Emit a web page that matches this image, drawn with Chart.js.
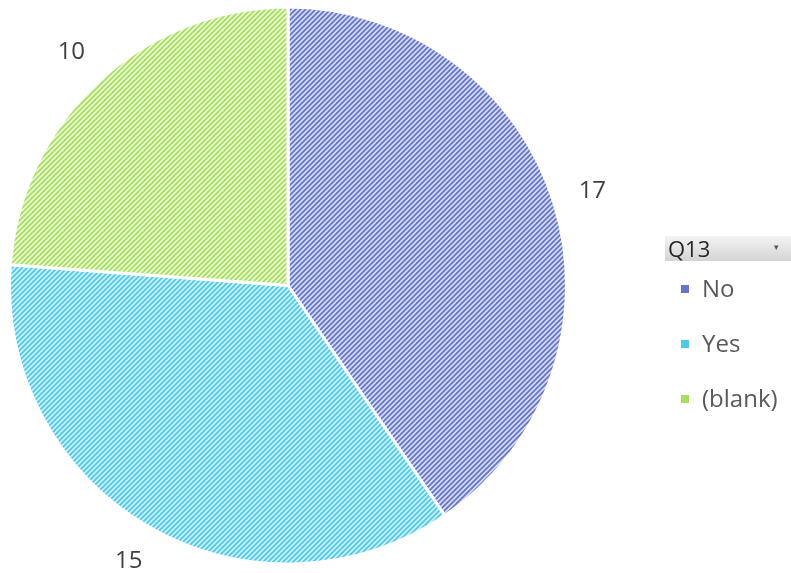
<!DOCTYPE html>
<html>
<head>
<meta charset="utf-8">
<script src="https://cdn.jsdelivr.net/npm/chart.js@4/dist/chart.umd.min.js"></script>
<style>
  html, body { margin: 0; padding: 0; background: #fff; }
  #wrap { position: relative; width: 791px; height: 573px; }
  #legend { position: absolute; left: 665px; top: 236px; width: 126px; font-family: "Open Sans", Lato, sans-serif; color: #595959; }
  #legend .head { height: 25px; line-height: 25px; padding-left: 3px; font-size: 22px; color: #262626;
    background: linear-gradient(#f4f4f4, #d4d4d4); position: relative; }
  #legend .head span { position: absolute; right: 12px; top: -2px; font-size: 9px; color: #555; }
  #legend .item { position: absolute; left: 16px; font-size: 24px; line-height: 30px; white-space: nowrap; }
  #legend .item i { display: inline-block; width: 8px; height: 8px; margin-right: 13px; vertical-align: 4px; }
</style>
</head>
<body>
<div id="wrap">
  <canvas id="myPie" width="791" height="573"></canvas>
  <div id="legend"></div>
</div>
<script>
const labels = ["No", "Yes", "(blank)"];
const counts = [17, 15, 10];
const darkColors = ["#6474cc", "#50c8e8", "#a8de60"];
const lightColors = ["#d4daf6", "#c8f0fa", "#e8f9d0"];

// diagonal stripe fill, like a spreadsheet "wide upward diagonal" pattern
function stripes(dark, light) {
    const s = 5;
    const c = document.createElement("canvas");
    c.width = s; c.height = s;
    const g = c.getContext("2d");
    g.fillStyle = light;
    g.fillRect(0, 0, s, s);
    g.strokeStyle = dark;
    g.lineWidth = 1.7;
    g.beginPath();
    g.moveTo(-1, s + 1); g.lineTo(s + 1, -1);
    g.moveTo(-1, 1); g.lineTo(1, -1);
    g.moveTo(s - 1, s + 1); g.lineTo(s + 1, s - 1);
    g.stroke();
    return g.createPattern(c, "repeat");
}

const fills = darkColors.map((d, i) => stripes(d, lightColors[i]));

// values written just outside each slice
const outsideLabels = {
    id: "outsideLabels",
    afterDatasetsDraw(chart) {
        const ctx = chart.ctx;
        const meta = chart.getDatasetMeta(0);
        ctx.save();
        ctx.font = "24px 'Open Sans', Lato, sans-serif";
        ctx.fillStyle = "#404040";
        ctx.textAlign = "center";
        ctx.textBaseline = "middle";
        meta.data.forEach((arc, i) => {
            const p = arc.getProps(["x", "y", "startAngle", "endAngle", "outerRadius"], true);
            const mid = (p.startAngle + p.endAngle) / 2;
            const d = p.outerRadius + 40;
            ctx.fillText(String(counts[i]), p.x + Math.cos(mid) * d, p.y + Math.sin(mid) * d);
        });
        ctx.restore();
    }
};

new Chart("myPie", {
    type: "pie",
    data: {
        labels: labels,
        datasets: [{
            data: counts,
            backgroundColor: fills,
            borderColor: "#ffffff",
            borderWidth: 3
        }]
    },
    options: {
        responsive: false,
        animation: false,
        layout: { padding: { left: 8, right: 223, top: 5, bottom: 7 } },
        plugins: {
            legend: { display: false },
            tooltip: { enabled: false }
        }
    },
    plugins: [outsideLabels]
});

// legend box on the right
const legend = document.getElementById("legend");
legend.innerHTML = '<div class="head">Q13<span>&#9662;</span></div>';
const itemTops = [37, 92, 147];
labels.forEach((name, i) => {
    const el = document.createElement("div");
    el.className = "item";
    el.style.top = itemTops[i] + "px";
    el.innerHTML = '<i style="background:' + darkColors[i] + '"></i>' + name;
    legend.appendChild(el);
});
</script>
</body>
</html>
